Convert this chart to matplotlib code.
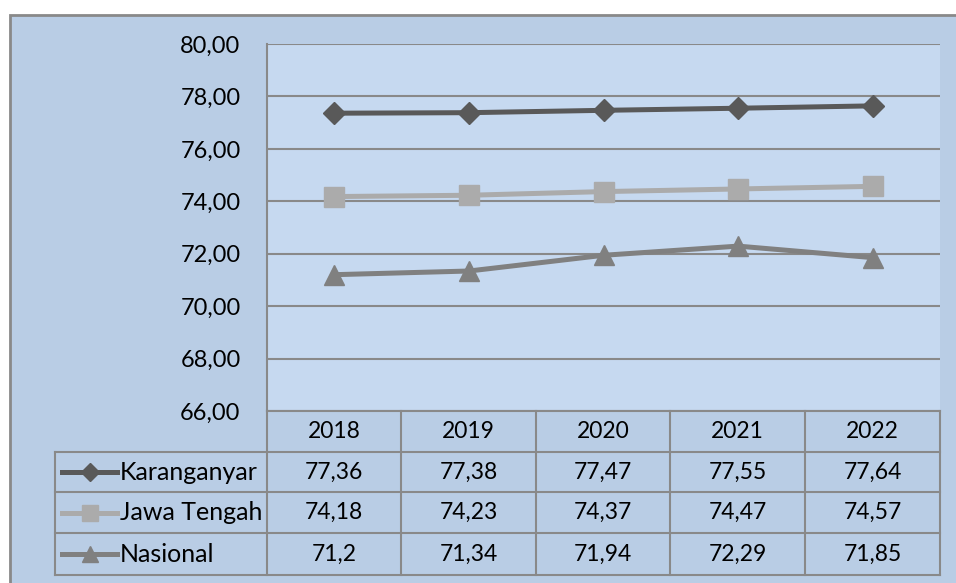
import matplotlib
matplotlib.use("Agg")
import matplotlib.pyplot as plt
from matplotlib.patches import Rectangle
from matplotlib.lines import Line2D

plt.rcParams['font.family'] = ['Lato', 'DejaVu Sans']

years = ["2018", "2019", "2020", "2021", "2022"]
series_names = ["Karanganyar", "Jawa Tengah", "Nasional"]
karanganyar = [77.36, 77.38, 77.47, 77.55, 77.64]
jawa_tengah = [74.18, 74.23, 74.37, 74.47, 74.57]
nasional = [71.2, 71.34, 71.94, 72.29, 71.85]
table_text = [["77,36", "77,38", "77,47", "77,55", "77,64"],
              ["74,18", "74,23", "74,37", "74,47", "74,57"],
              ["71,2", "71,34", "71,94", "72,29", "71,85"]]
yticks = [66, 68, 70, 72, 74, 76, 78, 80]

W, H = 956, 583
fig = plt.figure(figsize=(W / 100, H / 100), dpi=100)
fig.patch.set_facecolor('white')

FS = 16.5

def fx(px):
    return px / W

def fy(py):
    return 1 - py / H

grid_col = '#898989'
outer_bg = '#b9cde5'
plot_bg = '#c6d9f0'

# outer chart area
fig.add_artist(Rectangle((fx(10), fy(600)), fx(960) - fx(10), fy(15) - fy(600),
                         facecolor=outer_bg, edgecolor=grid_col, linewidth=2,
                         transform=fig.transFigure, zorder=0))

L, R, T, B = 267, 940, 44, 411
ax = fig.add_axes([fx(L), fy(B), fx(R) - fx(L), fy(T) - fy(B)])
ax.set_facecolor(plot_bg)
ax.set_xlim(-0.5, 4.5)
ax.set_ylim(66, 80)
ax.set_yticks(yticks)
ax.set_yticklabels([f"{v:.2f}".replace('.', ',') for v in yticks], fontsize=FS + 0.5)
ax.set_xticks([])
ax.tick_params(axis='y', length=0, pad=19)
ax.yaxis.grid(True, color=grid_col, linewidth=1.5)
ax.set_axisbelow(True)
for s in ['top', 'right', 'bottom']:
    ax.spines[s].set_visible(False)
ax.spines['left'].set_color(grid_col)
ax.spines['left'].set_linewidth(1.5)

colors = ['#595959', '#ababab', '#808080']
markers = ['D', 's', '^']
msizes = [11, 14, 14]
data = [karanganyar, jawa_tengah, nasional]
x = list(range(len(years)))
for vals, c, m, ms in zip(data, colors, markers, msizes):
    ax.plot(x, vals, color=c, linewidth=3.6, marker=m, markersize=ms,
            markerfacecolor=c, markeredgecolor=c, zorder=3)

# data table
col_edges = [267, 401, 536, 670, 805, 940]
row_edges = [411, 452, 492, 533, 575]
label_left = 55

def hline(x0, x1, y):
    fig.add_artist(Line2D([fx(x0), fx(x1)], [fy(y), fy(y)], color=grid_col,
                          linewidth=1.5, transform=fig.transFigure))

def vline(x, y0, y1):
    fig.add_artist(Line2D([fx(x), fx(x)], [fy(y0), fy(y1)], color=grid_col,
                          linewidth=1.5, transform=fig.transFigure))

hline(col_edges[0], col_edges[-1], row_edges[0])
for y in row_edges[1:]:
    hline(label_left, col_edges[-1], y)
for xe in col_edges:
    vline(xe, row_edges[0], row_edges[-1])
vline(label_left, row_edges[1], row_edges[-1])

for i, yr in enumerate(years):
    cx = (col_edges[i] + col_edges[i + 1]) / 2
    cy = (row_edges[0] + row_edges[1]) / 2
    fig.text(fx(cx), fy(cy), yr, ha='center', va='center', fontsize=FS)

for r, name in enumerate(series_names):
    cy = (row_edges[r + 1] + row_edges[r + 2]) / 2
    for i in range(len(years)):
        cx = (col_edges[i] + col_edges[i + 1]) / 2
        fig.text(fx(cx), fy(cy), table_text[r][i], ha='center', va='center', fontsize=FS)
    fig.add_artist(Line2D([fx(62), fx(117)], [fy(cy), fy(cy)], color=colors[r],
                          linewidth=3.6, transform=fig.transFigure))
    fig.add_artist(Line2D([fx(89.5)], [fy(cy)], color=colors[r], marker=markers[r],
                          markersize=msizes[r] * 0.85, linestyle='none',
                          transform=fig.transFigure))
    fig.text(fx(120), fy(cy), name, ha='left', va='center', fontsize=18)

fig.savefig('out.png', dpi=100, facecolor='white')
